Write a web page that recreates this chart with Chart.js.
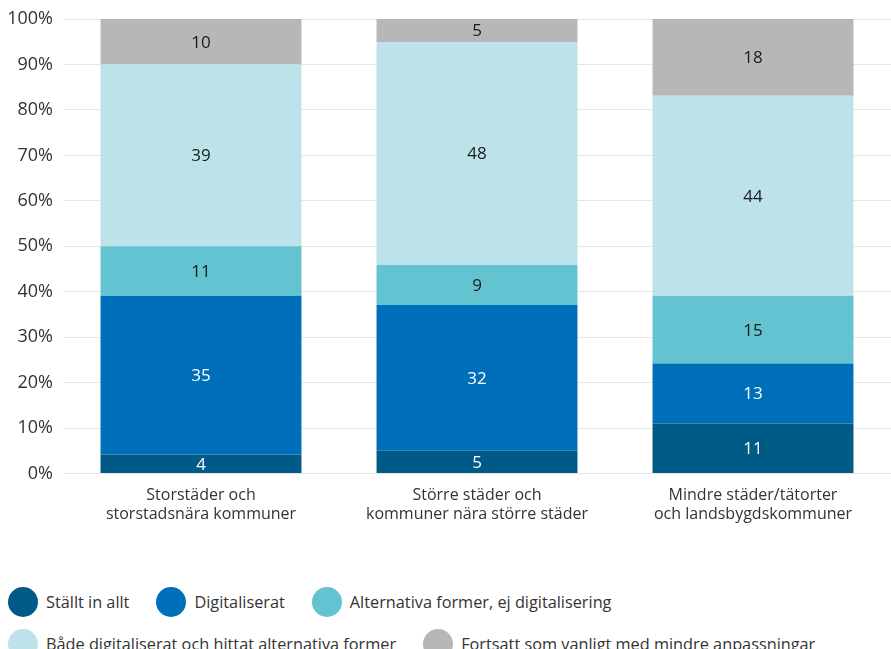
<!DOCTYPE html>
<html>
<head>
<meta charset="utf-8">
<script src="https://cdn.jsdelivr.net/npm/chart.js@4"></script>
<style>
  body { margin: 0; background: #fff; font-family: "Open Sans", sans-serif; }
  #wrap { position: relative; width: 891px; height: 649px; }
  #chart { position: absolute; left: 0; top: 0; }
  #legend { position: absolute; left: 8px; top: 587px; width: 880px; display: flex; flex-wrap: wrap; row-gap: 6px; }
  .item { display: flex; align-items: center; margin-right: 27px; height: 30px; font-size: 16.3px; color: #333; }
  .dot { width: 30px; height: 30px; border-radius: 50%; margin-right: 8px; }
</style>
</head>
<body>
<div id="wrap">
  <canvas id="chart" width="891" height="528"></canvas>
  <div id="legend"></div>
</div>
<script>
// Categories and series names
const categories = [
  ['Storstäder och', 'storstadsnära kommuner'],
  ['Större städer och', 'kommuner nära större städer'],
  ['Mindre städer/tätorter', 'och landsbygdskommuner']
];
const seriesNames = [
  'Ställt in allt',
  'Digitaliserat',
  'Alternativa former, ej digitalisering',
  'Både digitaliserat och hittat alternativa former',
  'Fortsatt som vanligt med mindre anpassningar'
];
// numbers printed in the bars
const stalltIn = [4, 5, 11];
const digitaliserat = [35, 32, 13];
const alternativa = [11, 9, 15];
const bade = [39, 48, 44];
const fortsatt = [10, 5, 18];
// segment heights (percent) as measured on the bars; the printed numbers are rounded
const stalltInShare = [4.2, 5.05, 11.0];
const digitaliseratShare = [34.9, 32.05, 13.2];
const alternativaShare = [10.9, 8.8, 14.9];
const badeShare = [40.0, 49.05, 44.0];
const fortsattShare = [10.0, 5.05, 16.9];

const colors = ['#005a87', '#006fba', '#63c3d1', '#bde2ea', '#b7b7b7'];
const labelColors = ['#ffffff', '#ffffff', '#1a1a1a', '#1a1a1a', '#1a1a1a'];
const yTicks = [0, 10, 20, 30, 40, 50, 60, 70, 80, 90, 100];

const printed = [stalltIn, digitaliserat, alternativa, bade, fortsatt];
const shares = [stalltInShare, digitaliseratShare, alternativaShare, badeShare, fortsattShare];

const datasets = shares.map((arr, k) => ({
  label: seriesNames[k],
  data: arr,
  printed: printed[k],
  backgroundColor: colors[k],
  borderWidth: 0,
  categoryPercentage: 1,
  barPercentage: 0.728
}));

// draws the value in the middle of each segment
const segmentLabels = {
  id: 'segmentLabels',
  afterDatasetsDraw(chart) {
    const ctx = chart.ctx;
    ctx.save();
    ctx.font = '17px "Open Sans", sans-serif';
    ctx.textAlign = 'center';
    ctx.textBaseline = 'middle';
    chart.data.datasets.forEach((ds, k) => {
      const meta = chart.getDatasetMeta(k);
      meta.data.forEach((bar, i) => {
        const p = bar.getProps(['x', 'y', 'base'], true);
        ctx.fillStyle = labelColors[k];
        ctx.fillText(String(ds.printed[i]), p.x, (p.y + p.base) / 2 + 1);
      });
    });
    ctx.restore();
  }
};

new Chart(document.getElementById('chart'), {
  type: 'bar',
  data: { labels: categories, datasets: datasets },
  options: {
    responsive: false,
    animation: false,
    layout: { padding: { top: 0, left: 5, right: 0, bottom: 0 } },
    plugins: {
      legend: { display: false },
      tooltip: { enabled: false }
    },
    scales: {
      x: {
        stacked: true,
        grid: { display: false },
        border: { display: false },
        ticks: { color: '#333', font: { family: 'Open Sans', size: 16 }, padding: 4, maxRotation: 0 }
      },
      y: {
        stacked: true,
        min: 0,
        max: 100,
        afterBuildTicks(axis) { axis.ticks = yTicks.map(v => ({ value: v })); },
        afterFit(axis) { axis.width = 58; },
        grid: { color: '#e6e6e6', drawTicks: false, lineWidth: 1 },
        border: { display: false },
        ticks: {
          color: '#333',
          font: { family: 'Open Sans', size: 18, lineHeight: 1 },
          padding: 10,
          callback: v => v + '%'
        }
      }
    }
  },
  plugins: [segmentLabels]
});

// legend built from the same arrays
const legend = document.getElementById('legend');
seriesNames.forEach((name, k) => {
  const item = document.createElement('div');
  item.className = 'item';
  const dot = document.createElement('span');
  dot.className = 'dot';
  dot.style.background = colors[k];
  item.appendChild(dot);
  item.appendChild(document.createTextNode(name));
  legend.appendChild(item);
  if (k === 2) {
    const br = document.createElement('div');
    br.style.flexBasis = '100%';
    br.style.height = '0';
    legend.appendChild(br);
  }
});
</script>
</body>
</html>
